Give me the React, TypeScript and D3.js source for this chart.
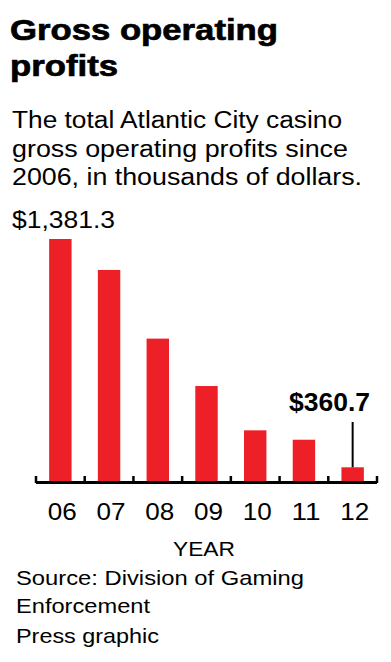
import React from "react";
import * as d3 from "d3";

const years = ["06", "07", "08", "09", "10", "11", "12"];
const profits = [1381.3, 1243, 936, 724, 526, 484, 360.7];
const firstLabel = "$1,381.3";
const lastLabel = "$360.7";

const titleLines = ["Gross operating", "profits"];
const subtitleLines = [
  "The total Atlantic City casino",
  "gross operating profits since",
  "2006, in thousands of dollars.",
];
const sourceLines = ["Source: Division of Gaming", "Enforcement"];
const credit = "Press graphic";

const W = 391;
const H = 662;
const RED = "#ed1f27";
const FONT = "'Liberation Sans', Arial, Helvetica, sans-serif";

export default function App() {
  // chart area
  const left = 36;
  const right = 377;
  const base = 482;
  const top = 239;

  const x = d3
    .scaleBand<string>()
    .domain(years)
    .range([left, right])
    .paddingInner(0.54)
    .paddingOuter(0.27);

  // bars don't start at zero in the original graphic
  const y = d3.scaleLinear().domain([295, d3.max(profits) as number]).range([base, top]);

  const step = x.step();
  const tickXs = years.map((d) => (x(d) as number) - (step * 0.54) / 2);
  tickXs.push(right);

  const lastYear = years[years.length - 1];
  const lastX = (x(lastYear) as number) + x.bandwidth() / 2;
  const lastY = y(profits[profits.length - 1]);

  const titleWidths = [268, 108];
  const subWidths = [330, 336, 350];
  const srcWidths = [288, 134];

  return (
    <svg
      width={W}
      height={H}
      style={{ position: "absolute", left: 0, top: 0, background: "#fff" }}
      fontFamily={FONT}
    >
      {/* Titel */}
      {titleLines.map((t, i) => (
        <text
          key={t}
          x={10}
          y={40 + i * 36}
          fontSize={30}
          fontWeight={700}
          stroke="#000"
          strokeWidth={0.7}
          textLength={titleWidths[i]}
          lengthAdjust="spacingAndGlyphs"
        >
          {t}
        </text>
      ))}

      {subtitleLines.map((t, i) => (
        <text
          key={t}
          x={12}
          y={128 + i * 28.5}
          fontSize={23}
          textLength={subWidths[i]}
          lengthAdjust="spacingAndGlyphs"
        >
          {t}
        </text>
      ))}

      <text x={12} y={228} fontSize={23.5} textLength={103} lengthAdjust="spacingAndGlyphs">
        {firstLabel}
      </text>

      {/* bars */}
      {years.map((d, i) => (
        <rect
          key={d}
          x={x(d)}
          y={y(profits[i])}
          width={x.bandwidth()}
          height={base - y(profits[i])}
          fill={RED}
        />
      ))}

      {/* callout for 2012 */}
      <text
        x={289}
        y={411}
        fontSize={25}
        fontWeight={700}
        textLength={81}
        lengthAdjust="spacingAndGlyphs"
      >
        {lastLabel}
      </text>
      <line x1={lastX} x2={lastX} y1={422} y2={lastY} stroke="#000" strokeWidth={2} />

      {/* axis */}
      <line x1={left} x2={right} y1={base + 0.5} y2={base + 0.5} stroke="#000" strokeWidth={3} />
      {tickXs.map((tx, i) => (
        <line
          key={i}
          x1={tx}
          x2={tx}
          y1={base + 1}
          y2={base - 6}
          stroke="#000"
          strokeWidth={2.5}
        />
      ))}
      {years.map((d) => (
        <text
          key={d}
          x={(x(d) as number) + x.bandwidth() / 2 + 2}
          y={520}
          fontSize={24}
          textAnchor="middle"
          textLength={29}
          lengthAdjust="spacingAndGlyphs"
        >
          {d}
        </text>
      ))}
      <text x={173} y={556} fontSize={21} textLength={62} lengthAdjust="spacingAndGlyphs">
        YEAR
      </text>

      {/* Quelle */}
      {sourceLines.map((t, i) => (
        <text
          key={t}
          x={16}
          y={585 + i * 28}
          fontSize={21}
          textLength={srcWidths[i]}
          lengthAdjust="spacingAndGlyphs"
        >
          {t}
        </text>
      ))}
      <text x={16} y={643} fontSize={21} textLength={143} lengthAdjust="spacingAndGlyphs">
        {credit}
      </text>
    </svg>
  );
}
